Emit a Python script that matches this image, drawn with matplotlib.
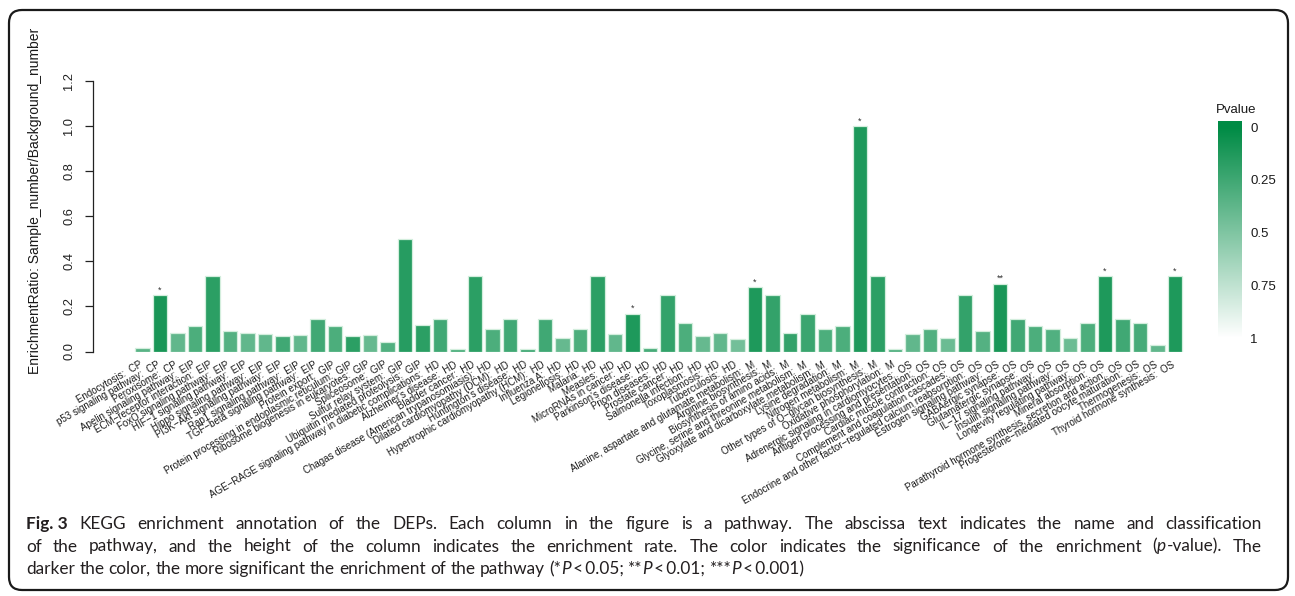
import re
import numpy as np
import matplotlib
matplotlib.use("Agg")
import matplotlib.pyplot as plt
from matplotlib.colors import LinearSegmentedColormap
from matplotlib.patches import FancyBboxPatch
from matplotlib.transforms import IdentityTransform

# ---------------------------------------------------------------- data
pathways = [
    "Endocytosis", "p53 signaling pathway", "Peroxisome",
    "Apelin signaling pathway", "ECM−receptor interaction", "FoxO signaling pathway",
    "HIF−1 signaling pathway", "Hippo signaling pathway", "PI3K−Akt signaling pathway",
    "Rap1 signaling pathway", "TGF−beta signaling pathway",
    "Protein export", "Protein processing in endoplasmic reticulum",
    "Ribosome biogenesis in eukaryotes", "Spliceosome", "Sulfur relay system",
    "Ubiquitin mediated proteolysis",
    "AGE−RAGE signaling pathway in diabetic complications", "Alzheimer's disease",
    "Bladder cancer", "Chagas disease (American trypanosomiasis)",
    "Dilated cardiomyopathy (DCM)", "Huntington's disease",
    "Hypertrophic cardiomyopathy (HCM)", "Influenza A", "Legionellosis", "Malaria",
    "Measles", "MicroRNAs in cancer", "Parkinson's disease", "Prion diseases",
    "Prostate cancer", "Salmonella infection", "Toxoplasmosis", "Tuberculosis",
    "Alanine, aspartate and glutamate metabolism", "Arginine biosynthesis",
    "Biosynthesis of amino acids", "Glycine, serine and threonine metabolism",
    "Glyoxylate and dicarboxylate metabolism", "Lysine degradation",
    "Nitrogen metabolism", "Other types of O−glycan biosynthesis",
    "Oxidative phosphorylation",
    "Adrenergic signaling in cardiomyocytes", "Antigen processing and presentation",
    "Cardiac muscle contraction", "Complement and coagulation cascades",
    "Endocrine and other factor−regulated calcium reabsorption",
    "Estrogen signaling pathway", "GABAergic synapse", "Glutamatergic synapse",
    "IL−17 signaling pathway", "Insulin signaling pathway",
    "Longevity regulating pathway", "Mineral absorption",
    "Parathyroid hormone synthesis, secretion and action",
    "Progesterone−mediated oocyte maturation", "Thermogenesis",
    "Thyroid hormone synthesis",
]

classes = (["CP"] * 3 + ["EIP"] * 8 + ["GIP"] * 6 + ["HD"] * 18
           + ["M"] * 9 + ["OS"] * 16)

ratios = [
    0.0167, 0.25, 0.0833,
    0.111, 0.333, 0.0909, 0.0833, 0.0769, 0.0667, 0.0714, 0.143,
    0.111, 0.0667, 0.0714, 0.04, 0.5, 0.118,
    0.143, 0.0133, 0.333, 0.1, 0.143, 0.0125, 0.143, 0.0588, 0.1, 0.333,
    0.0769, 0.167, 0.0137, 0.25, 0.125, 0.0667, 0.0833, 0.0556,
    0.286, 0.25, 0.08, 0.167, 0.1, 0.111, 1.0, 0.333, 0.0125,
    0.0769, 0.1, 0.0588, 0.25, 0.0909, 0.3, 0.143, 0.111, 0.1, 0.0588,
    0.125, 0.333, 0.143, 0.125, 0.0286, 0.333,
]

pvalues = [
    0.35, 0.10, 0.38,
    0.30, 0.17, 0.33, 0.38, 0.38, 0.25, 0.38, 0.25,
    0.30, 0.17, 0.40, 0.32, 0.15, 0.17,
    0.25, 0.30, 0.17, 0.30, 0.25, 0.25, 0.25, 0.40, 0.30, 0.17,
    0.38, 0.12, 0.28, 0.20, 0.30, 0.40, 0.38, 0.45,
    0.12, 0.20, 0.20, 0.23, 0.30, 0.30, 0.12, 0.17, 0.32,
    0.38, 0.32, 0.42, 0.20, 0.33, 0.10, 0.25, 0.30, 0.32, 0.42,
    0.30, 0.12, 0.25, 0.28, 0.38, 0.12,
]

# significance marks drawn above the bars
signif = [""] * 60
for idx, mark in [(1, "*"), (28, "*"), (35, "*"), (41, "*"),
                  (49, "**"), (55, "*"), (59, "*")]:
    signif[idx] = mark

pv_ticks = [0, 0.25, 0.5, 0.75, 1]
pv_ticklabels = ["0", "0.25", "0.5", "0.75", "1"]
y_ticks = [0.0, 0.2, 0.4, 0.6, 0.8, 1.0, 1.2]

caption = [
    ("<b>Fig.\u00a03</b> KEGG enrichment annotation of the DEPs. Each column in the figure "
     "is a pathway. The abscissa text indicates the name and classification", True),
    ("of the pathway, and the height of the column indicates the enrichment rate. "
     "The color indicates the significance of the enrichment (<i>p</i>-value). The", True),
    ("darker the color, the more significant the enrichment of the pathway "
     "(*<i>P</i>\u2009<\u20090.05; **<i>P</i>\u2009<\u20090.01; "
     "***<i>P</i>\u2009<\u20090.001)", False),
]

# ---------------------------------------------------------------- figure
W, H = 1295, 596
DPI = 100
fig = plt.figure(figsize=(W / DPI, H / DPI), dpi=DPI)
fig.patch.set_facecolor("white")

plt.rcParams["font.family"] = ["Liberation Sans", "DejaVu Sans"]

cmap = LinearSegmentedColormap.from_list("pv", ["#008B45", "#ffffff"])


def fig_box(x0, y0, x1, y1):
    """pixel box (top-left origin) -> figure fraction rect"""
    return [x0 / W, 1 - y1 / H, (x1 - x0) / W, (y1 - y0) / H]


# rounded frame around the panel
frame = FancyBboxPatch((9, 6), 1279, 580,
                       boxstyle="round,pad=0,rounding_size=13",
                       transform=IdentityTransform(), fill=False,
                       edgecolor="#1a1a1a", linewidth=1.6)
fig.patches.append(frame)

# ---------------------------------------------------------------- bars
px0, step = 142.5, 17.5
left_px, right_px = 93, 1195
ax = fig.add_axes(fig_box(left_px, 81, right_px, 351.5))
n = len(ratios)
x = np.arange(n)
ax.bar(x, ratios, width=0.833, color=cmap(np.array(pvalues)),
       edgecolor="#d3eedd", linewidth=0.9, zorder=2)
ax.set_xlim((left_px - px0) / step, (right_px - px0) / step)
ax.set_ylim(0, 1.2)

for s in ("top", "right", "bottom"):
    ax.spines[s].set_visible(False)
ax.spines["left"].set_bounds(0, 1.2)
ax.spines["left"].set_color("#222222")
ax.spines["left"].set_linewidth(0.9)
ax.set_yticks(y_ticks)
ax.set_yticklabels([f"{v:.1f}" for v in y_ticks], rotation=90, va="center",
                   fontsize=9.3, color="#222222")
ax.tick_params(axis="y", length=5.8, width=0.9, color="#222222", pad=7)
ax.set_xticks([])

for i, (r, m) in enumerate(zip(ratios, signif)):
    if m:
        ax.text(i, r + 0.003, m, ha="center", va="bottom", fontsize=6.5,
                color="#333333", zorder=3)

for i, (p, c) in enumerate(zip(pathways, classes)):
    ax.text(i - 0.2, -0.036, f"{p}:  {c}", rotation=30, ha="right", va="top",
            rotation_mode="anchor", fontsize=7, color="#1a1a1a", clip_on=False)

fig.text(35 / W, 1 - 201 / H, "EnrichmentRatio: Sample_number/Background_number",
         rotation=90, ha="center", va="center", fontsize=10, color="#1a1a1a")

# ---------------------------------------------------------------- colour bar
cb_top, cb_bot = 121, 348
p_top, p_bot = 127, 338
lo = -(p_top - cb_top) / (p_bot - p_top)
hi = 1 + (cb_bot - p_bot) / (p_bot - p_top)
cax = fig.add_axes(fig_box(1218, cb_top, 1242, cb_bot))
grad = np.clip(np.linspace(lo, hi, 400), 0, 1).reshape(-1, 1)
cax.imshow(grad, cmap=cmap, vmin=0, vmax=1, aspect="auto",
           extent=[0, 1, hi, lo], interpolation="bilinear")
cax.set_ylim(hi, lo)
cax.set_xlim(0, 1)
cax.set_xticks([])
cax.yaxis.tick_right()
cax.set_yticks(pv_ticks)
cax.set_yticklabels(pv_ticklabels, fontsize=9.5, color="#1a1a1a")
cax.tick_params(axis="y", length=0, pad=6)
for s in cax.spines.values():
    s.set_visible(False)
fig.text(1216 / W, 1 - 110 / H, "Pvalue", ha="left", va="center",
         fontsize=9.5, color="#1a1a1a")

# ---------------------------------------------------------------- caption
cap_family = ["Lato", "DejaVu Sans"]
renderer = fig.canvas.get_renderer()


def parse_words(markup):
    styled = []
    bold = ital = False
    for tok in re.split(r"(</?[bi]>)", markup):
        if tok == "<b>":
            bold = True
        elif tok == "</b>":
            bold = False
        elif tok == "<i>":
            ital = True
        elif tok == "</i>":
            ital = False
        else:
            styled.extend((ch, bold, ital) for ch in tok)
    words, cur = [], []
    for ch, b, it in styled + [(" ", False, False)]:
        if ch == " ":
            if cur:
                words.append(cur)
            cur = []
        else:
            if cur and cur[-1][1] == b and cur[-1][2] == it:
                cur[-1] = (cur[-1][0] + ch, b, it)
            else:
                cur.append((ch, b, it))
    return words


def make_runs(words, fs, y):
    objs = []
    for w in words:
        runs = []
        for txt, b, it in w:
            t = fig.text(0, y, txt, fontsize=fs, family=cap_family,
                         weight="bold" if b else "normal",
                         style="italic" if it else "normal",
                         color="#231f20", ha="left", va="baseline")
            runs.append((t, t.get_window_extent(renderer).width))
        objs.append(runs)
    return objs


def place_line(markup, justify, fs, y_px, x0, x1):
    y = 1 - y_px / H
    words = parse_words(markup)
    objs = make_runs(words, fs, y)
    widths = [sum(wd for _, wd in runs) for runs in objs]
    probe_a = fig.text(0, 0, "a a", fontsize=fs, family=cap_family)
    probe_b = fig.text(0, 0, "aa", fontsize=fs, family=cap_family)
    space = (probe_a.get_window_extent(renderer).width
             - probe_b.get_window_extent(renderer).width)
    probe_a.remove()
    probe_b.remove()
    if justify and len(objs) > 1:
        space = (x1 - x0 - sum(widths)) / (len(objs) - 1)
    cx = x0
    for runs, wd in zip(objs, widths):
        rx = cx
        for t, rw in runs:
            t.set_x(rx / W)
            rx += rw
        cx += wd + space
    return sum(widths) + space * (len(objs) - 1)


# size the caption font so the last (ragged) line has its natural width
probe = fig.text(0, 0, re.sub(r"</?[bi]>", "", caption[2][0]), fontsize=12,
                 family=cap_family)
natural = probe.get_window_extent(renderer).width
probe.remove()
cap_fs = 12 * 775 / natural

for k, (line, just) in enumerate(caption):
    place_line(line, just, cap_fs, 529 + 22.5 * k, 26, 1262)

fig.savefig("out.png", dpi=DPI, facecolor="white")
